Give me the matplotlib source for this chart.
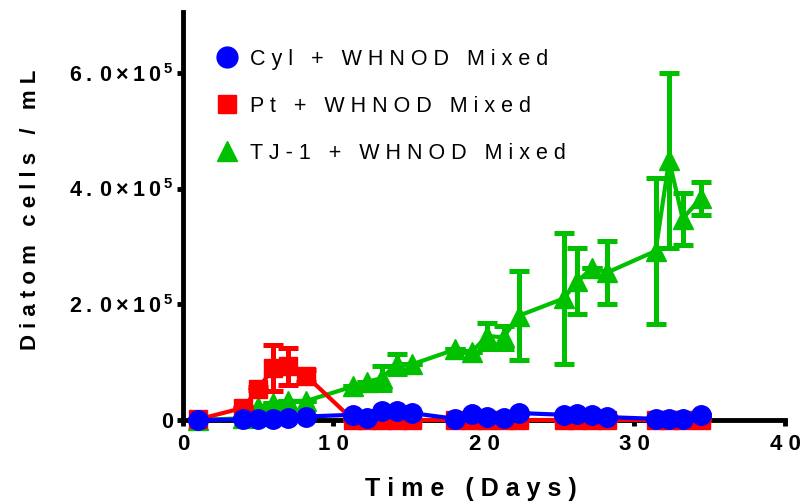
import matplotlib
matplotlib.use("Agg")
import matplotlib.pyplot as plt
import numpy as np

plt.rcParams['font.family'] = ['Liberation Sans', 'DejaVu Sans']
plt.rcParams['mathtext.fontset'] = 'custom'
plt.rcParams['mathtext.bf'] = 'Liberation Sans:bold'
plt.rcParams['mathtext.rm'] = 'Liberation Sans:bold'
plt.rcParams['mathtext.it'] = 'Liberation Sans:bold'

# ---------------- data ----------------
days = [1, 4, 5, 6, 7, 8.2, 11.3, 12.2, 13.2, 14.2, 15.2, 18.1, 19.2, 20.2, 21.3, 22.3,
        25.3, 26.2, 27.2, 28.2, 31.4, 32.3, 33.2, 34.4]

cyl_mean = [0, 1e3, 2e3, 2e3, 3e3, 6e3, 9e3, 3e3, 15e3, 16e3, 12e3, 2e3, 10e3, 5e3, 3e3, 12e3,
            9e3, 10e3, 9e3, 5e3, 2e3, 2e3, 2e3, 9e3]
cyl_err = [0] * 24

pt_mean = [1e3, 21e3, 54e3, 90e3, 93e3, 76e3, 0, 0, 0, 0, 0, 0, 0, 0, 0, 0,
           0, 0, 0, 0, 0, 0, 0, 0]
pt_err = [0, 0, 3e3, 40e3, 32e3, 10e3, 0, 0, 0, 0, 0, 0, 0, 0, 0, 0,
          0, 0, 0, 0, 0, 0, 0, 0]

tj_mean = [0, 3e3, 22e3, 30e3, 33e3, 33e3, 58e3, 66e3, 72e3, 97e3, 96e3, 122e3, 118e3, 145e3,
           143e3, 180e3, 210e3, 240e3, 262e3, 255e3, 292e3, 449e3, 348e3, 383e3]
tj_err = [0, 0, 0, 0, 0, 0, 0, 0, 21e3, 17e3, 0, 0, 0, 22e3,
          20e3, 77e3, 113e3, 57e3, 0, 55e3, 126e3, 151e3, 45e3, 28e3]

labels = ["Cyl + WHNOD Mixed", "Pt + WHNOD Mixed", "TJ-1 + WHNOD Mixed"]
xticks = [0, 10, 20, 30, 40]
yticks = [0, 2e5, 4e5, 6e5]
ytick_mant = ["", "2.0", "4.0", "6.0"]


def sp(s):
    return " ".join(list(s))


def ylab(m):
    if not m:
        return "0"
    body = r"\:".join(list(m))
    return r"$\mathbf{" + body + r"\:\times\:1\:0^{\:5}}$"


# ---------------- figure ----------------
fig = plt.figure(figsize=(8.04, 5.04), dpi=100)
ax = fig.add_axes([183 / 804, 1 - 420 / 504, (785 - 183) / 804, (420 - 12) / 504])

blue = '#0000FF'
red = '#FF0000'
green = '#00C000'
lw = 3.0
common = dict(elinewidth=3.6, capsize=7, capthick=3.6, linewidth=lw)

h3 = ax.errorbar(days, tj_mean, yerr=tj_err, color=green, marker='^', markersize=14,
                 zorder=1, clip_on=False, **common)
h2 = ax.errorbar(days, pt_mean, yerr=pt_err, color=red, marker='s', markersize=12.5,
                 zorder=2, clip_on=False, **common)
h1 = ax.errorbar(days, cyl_mean, yerr=cyl_err, color=blue, marker='o', markersize=14,
                 zorder=3, clip_on=False, **common)
for h in (h1, h2, h3):
    for a in h[1] + h[2]:
        a.set_clip_on(False)

ax.set_xlim(0, 40)
ax.set_ylim(0, 7.05e5)

for s in ('top', 'right'):
    ax.spines[s].set_visible(False)
for s in ('left', 'bottom'):
    ax.spines[s].set_linewidth(3.5)
    ax.spines[s].set_zorder(0)

ax.set_xticks(xticks)
ax.set_xticklabels([sp(str(t)) for t in xticks], fontsize=16, fontweight='bold')
ax.set_yticks(yticks)
ax.set_yticklabels([ylab(m) for m in ytick_mant], fontsize=15.5, fontweight='bold')
ax.tick_params(axis='both', width=3.5, length=4, direction='out')
ax.tick_params(axis='x', pad=6)
ax.tick_params(axis='y', pad=3)

ax.set_xlabel(sp("Time (Days)"), fontsize=18, fontweight='bold')
ax.xaxis.set_label_coords(0.478, -0.140)
ax.set_ylabel(sp("Diatom cells / mL"), fontsize=16, fontweight='bold')
ax.yaxis.set_label_coords(-0.236, 0.515)

leg_handles = [
    plt.Line2D([], [], color=blue, marker='o', markersize=15, linestyle='None'),
    plt.Line2D([], [], color=red, marker='s', markersize=13, linestyle='None'),
    plt.Line2D([], [], color=green, marker='^', markersize=15, linestyle='None'),
]
ax.legend(leg_handles, [sp(l) for l in labels], loc='upper left',
          bbox_to_anchor=(216 / 804, 1 - 49 / 504), bbox_transform=fig.transFigure,
          frameon=False, fontsize=15.5, handlelength=1.0, handletextpad=0.6,
          labelspacing=1.2, borderpad=0, borderaxespad=0)

fig.savefig("out.png", dpi=100)
